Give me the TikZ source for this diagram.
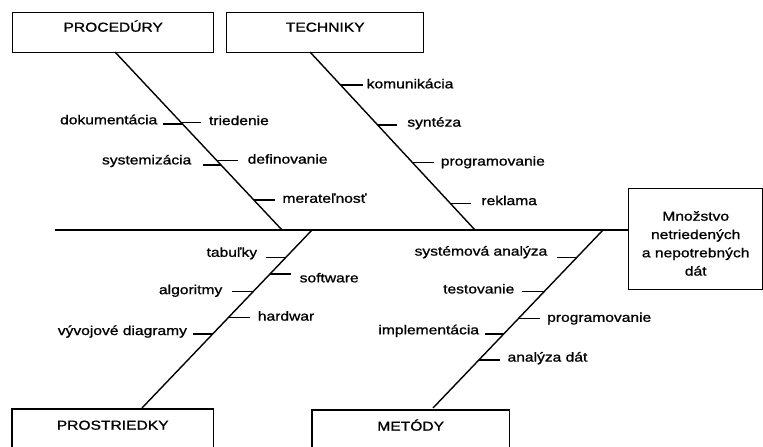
\documentclass[tikz,border=0pt]{standalone}
\usepackage{fontspec}
\setmainfont{Liberation Sans}[FakeStretch=1.2,FakeBold=1]
\usetikzlibrary{calc}
\begin{document}
\begin{tikzpicture}[x=1pt,y=-1pt,line width=1.4pt,
  every node/.style={font=\fontsize{13pt}{18.3pt}\selectfont},
  catbox/.style={draw,inner sep=0pt,text height=19pt,text depth=21pt,anchor=north west},
  openbox/.style={inner sep=0pt,text height=20pt,text depth=21pt,anchor=north west},
  lab/.style={inner sep=0pt,text height=6.75pt,text depth=0pt}]
\useasboundingbox (0,0) rectangle (763,447);

% boxes
\node[catbox,minimum width=201pt] (proc) at (12,12) {PROCEDÚRY};
\node[catbox,minimum width=197pt] (tech) at (226,12) {TECHNIKY};
\node[openbox,minimum width=200pt] (pros) at (12,409) {PROSTRIEDKY};
\node[openbox,minimum width=196pt] (meto) at (312,410) {METÓDY};
\draw (pros.south west) -- (pros.north west) -- (pros.north east) -- (pros.south east);
\draw (meto.south west) -- (meto.north west) -- (meto.north east) -- (meto.south east);
\node[draw,inner sep=0pt,text width=134pt,align=center,text height=32pt,text depth=69pt,anchor=north west]
  (main) at (628,188) {Množstvo\\netriedených\\a nepotrebných\\dát};

% spine
\coordinate (s0) at (55,230);
\draw (s0) -- (s0 -| main.west);

% bones
\coordinate (pA) at (115,52);  \coordinate (pB) at (282,230);
\coordinate (tA) at (310,52);  \coordinate (tB) at (475,230);
\coordinate (sA) at (312,230); \coordinate (sB) at (142,408);
\coordinate (mA) at (603,230); \coordinate (mB) at (433,408);
\draw (pA) -- (pB);
\draw (tA) -- (tB);
\draw (sA) -- (sB);
\draw (mA) -- (mB);

% PROCEDURY
\draw ($(pA)!0.404!(pB)$) -- ++(-19,0) node[lab,left=5.5pt,yshift=3pt] (p1) {dokumentácia};
\draw ($(pA)!0.397!(pB)$) -- ++(20,0) node[lab,right=7pt,yshift=1pt] (p2) {triedenie};
\draw ($(pA)!0.635!(pB)$) -- ++(-18,0) node[lab,left=11pt,yshift=4pt] (p3) {systemizácia};
\draw ($(pA)!0.611!(pB)$) -- ++(21,0) node[lab,right=9pt,yshift=0.5pt] (p4) {definovanie};
\draw ($(pA)!0.831!(pB)$) -- ++(21,0) node[lab,right=7pt,yshift=0.5pt] (p5) {merateľnosť};

% TECHNIKY
\draw ($(tA)!0.185!(tB)$) -- ++(22,0) node[lab,right=3.5pt,yshift=0pt] (t1) {komunikácia};
\draw ($(tA)!0.410!(tB)$) -- ++(19,0) node[lab,right=10pt,yshift=1.7pt] (t2) {syntéza};
\draw ($(tA)!0.622!(tB)$) -- ++(21,0) node[lab,right=6.5pt,yshift=0.5pt] (t3) {programovanie};
\draw ($(tA)!0.850!(tB)$) -- ++(21,0) node[lab,right=9.5pt,yshift=1.6pt] (t4) {reklama};

% PROSTRIEDKY
\draw ($(sA)!0.154!(sB)$) -- ++(-20,0) node[lab,left=8pt,yshift=4pt] (s1) {tabuľky};
\draw ($(sA)!0.247!(sB)$) -- ++(21,0) node[lab,right=8pt,yshift=-5pt] (s2) {software};
\draw ($(sA)!0.347!(sB)$) -- ++(-21,0) node[lab,left=9pt,yshift=1pt] (s3) {algoritmy};
\draw ($(sA)!0.493!(sB)$) -- ++(22,0) node[lab,right=7pt,yshift=0.5pt] (s4) {hardwar};
\draw ($(sA)!0.584!(sB)$) -- ++(-20,0) node[lab,left=5pt,yshift=2.3pt] (s5) {vývojové diagramy};

% METODY
\draw ($(mA)!0.153!(mB)$) -- ++(-20,0) node[lab,left=9pt,yshift=5pt] (m1) {systémová analýza};
\draw ($(mA)!0.347!(mB)$) -- ++(-22,0) node[lab,left=7pt,yshift=1.7pt] (m2) {testovanie};
\draw ($(mA)!0.497!(mB)$) -- ++(21,0) node[lab,right=7pt,yshift=0pt] (m3) {programovanie};
\draw ($(mA)!0.584!(mB)$) -- ++(-19,0) node[lab,left=5pt,yshift=3pt] (m4) {implementácia};
\draw ($(mA)!0.730!(mB)$) -- ++(21,0) node[lab,right=7pt,yshift=1.7pt] (m5) {analýza dát};
\end{tikzpicture}
\end{document}
